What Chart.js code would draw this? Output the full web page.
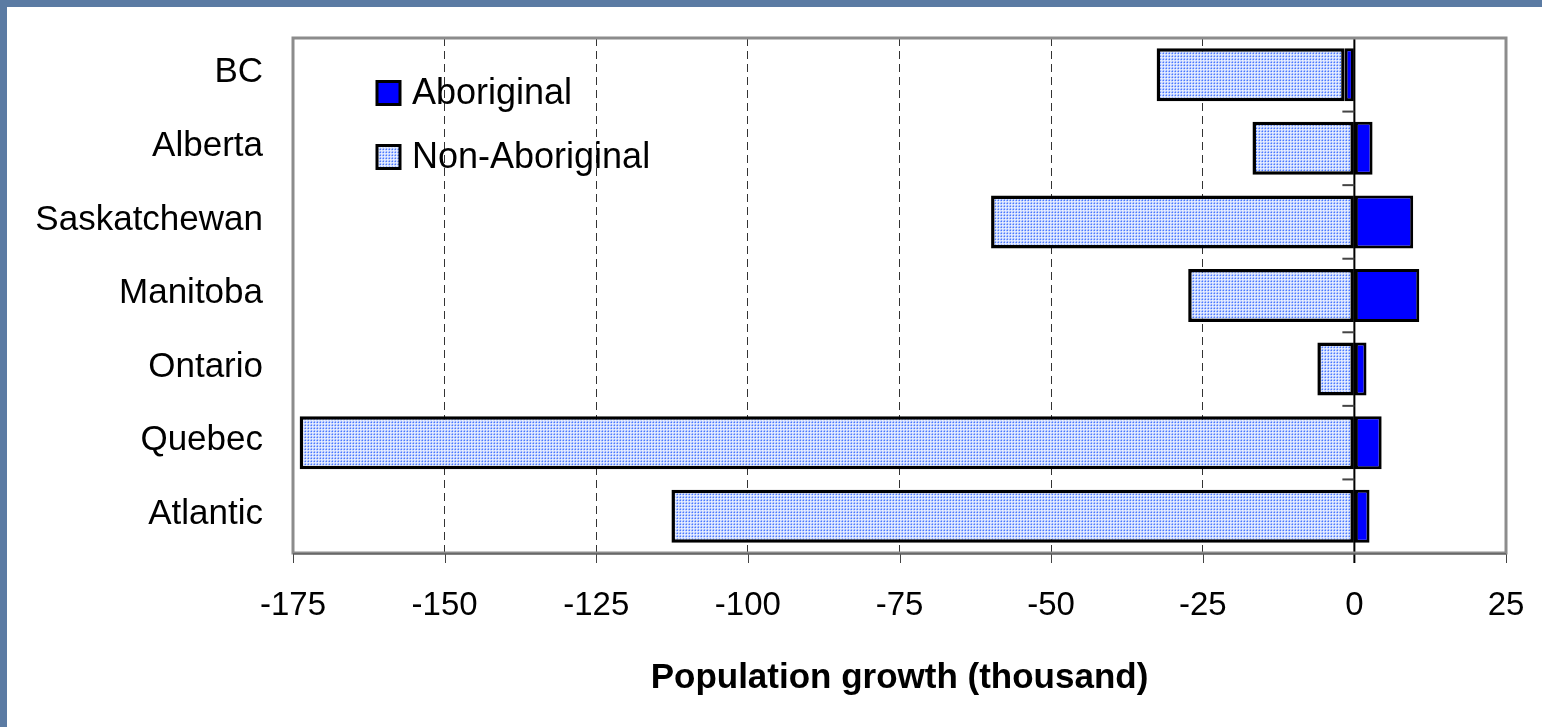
<!DOCTYPE html>
<html>
<head>
<meta charset="utf-8">
<script src="https://cdn.jsdelivr.net/npm/chart.js@4/dist/chart.umd.min.js"></script>
<style>
  html, body { margin: 0; padding: 0; }
  body { width: 1542px; height: 727px; background: #5b7ba3; position: relative; overflow: hidden; }
  #panel { position: absolute; left: 7px; top: 7px; width: 1535px; height: 720px; background: #ffffff; }
  #c { display: block; }
</style>
</head>
<body>
<div id="panel"><canvas id="c" width="1535" height="720"></canvas></div>
<script>
const categories = ['BC', 'Alberta', 'Saskatchewan', 'Manitoba', 'Ontario', 'Quebec', 'Atlantic'];
const aboriginal = [-1.6, 3.0, 9.7, 10.7, 2.0, 4.5, 2.5];
const nonAboriginal = [-31.0, -16.8, -59.9, -27.4, -6.1, -173.9, -112.6];
const seriesNames = ['Aboriginal', 'Non-Aboriginal'];
const axisMin = -175, axisMax = 25, axisStep = 25;
const axisTitle = 'Population growth (thousand)';

const FONT = '"Liberation Sans", Arial, sans-serif';

function makePattern() {
  const t = document.createElement('canvas');
  t.width = 3; t.height = 3;
  const g = t.getContext('2d');
  g.fillStyle = '#d3dfff'; g.fillRect(0, 0, 3, 3);
  g.fillStyle = '#4a78ff'; g.fillRect(1, 1, 1, 1);
  g.fillStyle = '#93afff'; g.fillRect(0, 1, 1, 1); g.fillRect(1, 0, 1, 1);
  g.fillStyle = '#f0f4ff'; g.fillRect(2, 2, 1, 1);
  return document.getElementById('c').getContext('2d').createPattern(t, 'repeat');
}
const dotted = makePattern();

const framePlugin = {
  id: 'frame',
  beforeDatasetsDraw(chart) {
    const {ctx, chartArea: a, scales} = chart;
    const xs = scales.x;
    const x0 = xs.getPixelForValue(0);
    const y = scales.y;
    ctx.save();
    ctx.strokeStyle = '#444';
    ctx.lineWidth = 1;
    xs.ticks.forEach(t => {
      const px = Math.round(xs.getPixelForValue(t.value)) + 0.5;
      ctx.beginPath();
      ctx.moveTo(px, a.bottom); ctx.lineTo(px, a.bottom + 10);
      ctx.stroke();
    });
    ctx.strokeStyle = '#000';
    ctx.lineWidth = 2;
    ctx.beginPath();
    ctx.moveTo(x0, a.top); ctx.lineTo(x0, a.bottom + 10);
    ctx.stroke();
    ctx.strokeStyle = '#444';
    ctx.lineWidth = 2;
    for (let i = 0; i <= categories.length; i++) {
      const yy = i === 0 ? a.top : (i === categories.length ? a.bottom : (y.getPixelForValue(i - 1) + y.getPixelForValue(i)) / 2);
      ctx.beginPath();
      ctx.moveTo(x0 - 12, yy); ctx.lineTo(x0, yy);
      ctx.stroke();
    }
    ctx.restore();
  },
  afterDatasetsDraw(chart) {
    const {ctx, chartArea: a} = chart;
    ctx.save();
    ctx.strokeStyle = '#8c8c8c';
    ctx.lineWidth = 3;
    ctx.strokeRect(a.left, a.top, a.right - a.left, a.bottom - a.top);
    ctx.strokeStyle = '#444';
    ctx.lineWidth = 1;
    ctx.beginPath();
    ctx.moveTo(a.left, a.bottom + 1); ctx.lineTo(a.right, a.bottom + 1);
    ctx.stroke();
    const ds = chart.data.datasets;
    const lx = a.left + 84, ly = a.top + 55, gap = 64, box = 23;
    ds.forEach((d, i) => {
      const cy = ly + i * gap;
      ctx.fillStyle = d.backgroundColor;
      ctx.fillRect(lx, cy - box / 2, box, box);
      ctx.strokeStyle = '#000';
      ctx.lineWidth = 3;
      ctx.strokeRect(lx, cy - box / 2, box, box);
      ctx.fillStyle = '#000';
      ctx.font = '36px ' + FONT;
      ctx.textBaseline = 'middle';
      ctx.textAlign = 'left';
      ctx.fillText(d.label, lx + box + 12, cy + 1);
    });
    ctx.restore();
  }
};

new Chart(document.getElementById('c'), {
  type: 'bar',
  data: {
    labels: categories,
    datasets: [
      { label: seriesNames[0], data: aboriginal, backgroundColor: '#0000ff', borderColor: '#000', borderWidth: 3, borderSkipped: false },
      { label: seriesNames[1], data: nonAboriginal, backgroundColor: dotted, borderColor: '#000', borderWidth: 3.5, borderSkipped: false }
    ]
  },
  options: {
    indexAxis: 'y',
    responsive: false,
    animation: false,
    devicePixelRatio: 1,
    datasets: { bar: { barPercentage: 0.72, categoryPercentage: 1 } },
    layout: { padding: { left: 0, top: 31, right: 36, bottom: 0 } },
    plugins: { legend: { display: false }, tooltip: { enabled: false } },
    scales: {
      x: {
        type: 'linear',
        stacked: true,
        min: axisMin, max: axisMax,
        afterFit(s) { s.height = 174; },
        ticks: { stepSize: axisStep, color: '#000', font: { family: FONT, size: 33 }, padding: 0, maxRotation: 0 },
        grid: {
          color: (c) => (c.tick && (c.tick.value === axisMin || c.tick.value === axisMax || c.tick.value === 0)) ? 'rgba(0,0,0,0)' : '#333',
          lineWidth: 1,
          drawTicks: true,
          tickLength: 33,
          tickColor: 'rgba(0,0,0,0)',
          tickBorderDash: []
        },
        border: { display: false, dash: [8, 5] },
        title: { display: true, text: axisTitle, color: '#000', font: { family: FONT, size: 35, weight: 'bold' }, padding: { top: 0, bottom: 28 } }
      },
      y: {
        stacked: true,
        afterFit(s) { s.width = 286; },
        ticks: { color: '#000', font: { family: FONT, size: 35 }, padding: 0, labelOffset: -2 },
        grid: { display: false, drawTicks: true, tickLength: 30 },
        border: { display: false }
      }
    }
  },
  plugins: [framePlugin]
});
</script>
</body>
</html>
